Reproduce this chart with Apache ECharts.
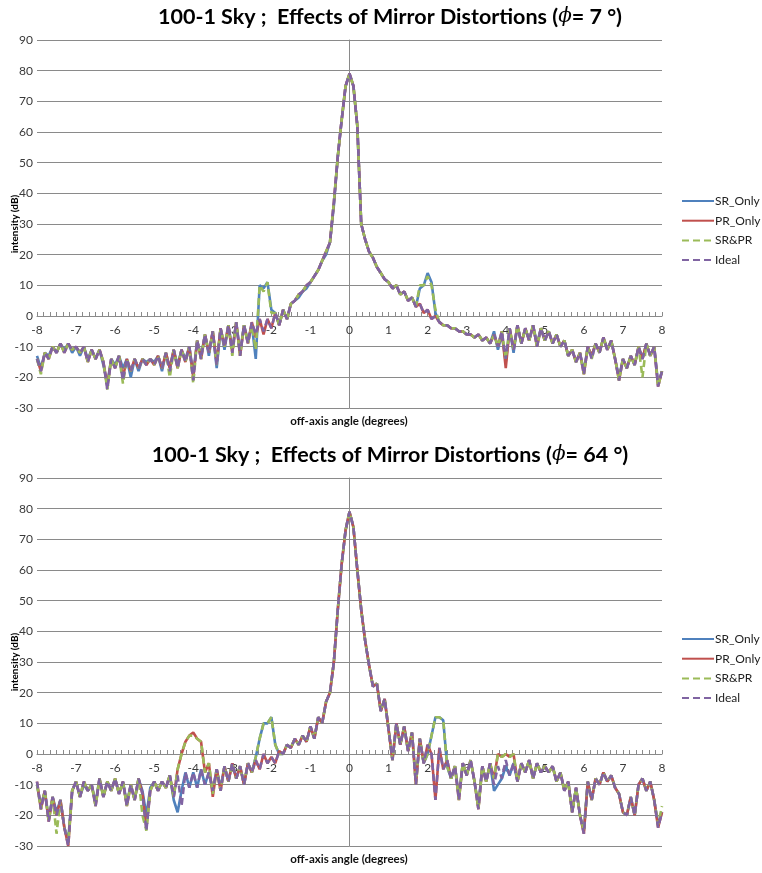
<!DOCTYPE html>
<html>
<head>
<meta charset="utf-8">
<script src="https://cdn.jsdelivr.net/npm/echarts@6/dist/echarts.min.js"></script>
<style>
  html, body { margin: 0; padding: 0; background: #fff; }
  #chart { width: 762px; height: 873px; }
</style>
</head>
<body>
<div id="chart"></div>
<script>
// Off-axis angle sample grid: -8.0° .. 8.0° in 0.1° steps (161 samples)
const angles = [];
for (let i = 0; i <= 160; i++) angles.push(Math.round((-8 + i * 0.1) * 10) / 10);

const seriesNames = ['SR_Only', 'PR_Only', 'SR&PR', 'Ideal'];
const xTicks = { min: -8, max: 8, step: 1 };
const yTicks = { min: -30, max: 90, step: 10 };

// ---- phi = 7 deg : intensity (dB) ----
const p7SR = [
  -13, -17, -12, -13, -10, -12, -9, -11, -9, -12,
  -10, -13, -10, -14, -11, -14, -11, -16, -22, -14,
  -16, -13, -17, -14, -20, -14, -18, -14, -15, -14,
  -15, -13, -18, -12, -17, -11, -16, -11, -14, -10,
  -19, -8, -13, -6, -13, -5, -17, -4, -11, -3,
  -11, -2, -12, -3, -8, -3, -14, 10, 9, 11,
  2, 1, -3, 2, -1, 4, 5, 6, 8, 9,
  11, 13, 15, 18, 20, 24, 36, 52, 64, 75,
  79,
  75, 62, 30, 25, 21, 19, 16, 14, 12, 11,
  9, 10, 7, 8, 5, 6, 3, 9, 10, 14,
  11, 1, -2, -3, -3, -4, -4, -5, -5, -6,
  -6, -7, -6, -8, -7, -9, -5, -11, -6, -15,
  -4, -12, -3, -9, -4, -8, -3, -9, -4, -8,
  -5, -9, -6, -10, -8, -13, -11, -15, -12, -18,
  -10, -13, -9, -12, -7, -11, -8, -14, -20, -14,
  -17, -13, -16, -10, -14, -9, -13, -10, -22, -18
];
const p7PR = [
  -14, -18, -12, -14, -10, -12, -9, -12, -9, -11,
  -10, -12, -10, -15, -11, -14, -11, -15, -23, -14,
  -17, -13, -20, -14, -18, -14, -17, -14, -16, -14,
  -16, -13, -17, -12, -17, -11, -17, -11, -15, -10,
  -20, -8, -14, -6, -12, -5, -15, -4, -10, -3,
  -12, -2, -13, -3, -9, -2, -7, -1, -6, -1,
  -4, 1, -3, 2, -1, 4, 5, 7, 8, 10,
  11, 13, 15, 18, 21, 24, 37, 52, 64, 75,
  79,
  75, 62, 30, 25, 21, 19, 16, 14, 12, 11,
  9, 10, 7, 8, 5, 6, 3, 4, 1, 2,
  -1, 0, -2, -3, -3, -4, -4, -5, -5, -6,
  -6, -7, -6, -8, -7, -9, -6, -10, -5, -17,
  -4, -11, -3, -9, -4, -8, -3, -10, -4, -8,
  -5, -9, -6, -10, -8, -13, -11, -15, -12, -19,
  -10, -13, -9, -12, -7, -11, -8, -14, -21, -14,
  -17, -13, -16, -10, -14, -9, -13, -10, -23, -18
];
const p7Both = [
  -14, -19, -12, -14, -10, -12, -9, -12, -9, -11,
  -10, -12, -10, -15, -11, -14, -11, -15, -24, -14,
  -17, -13, -22, -14, -18, -14, -17, -14, -16, -14,
  -16, -13, -17, -12, -20, -11, -17, -11, -15, -10,
  -22, -8, -14, -6, -12, -5, -16, -4, -10, -3,
  -13, -2, -13, -3, -9, -3, -11, 10, 8, 11,
  1, 1, -3, 2, -1, 4, 5, 7, 8, 10,
  11, 13, 15, 18, 21, 24, 37, 52, 64, 75,
  79,
  75, 62, 30, 25, 21, 19, 16, 14, 12, 11,
  9, 10, 7, 8, 5, 6, 3, 10, 10, 13,
  10, 2, -2, -3, -3, -4, -4, -5, -5, -6,
  -6, -7, -6, -8, -7, -9, -6, -10, -5, -14,
  -4, -11, -3, -9, -4, -8, -3, -10, -4, -8,
  -5, -9, -6, -10, -8, -13, -11, -15, -12, -19,
  -10, -14, -9, -12, -7, -11, -8, -14, -21, -14,
  -17, -13, -16, -10, -20, -9, -13, -10, -23, -18
];
const p7Ideal = [
  -14, -18, -12, -14, -10, -12, -9, -12, -9, -11,
  -10, -12, -10, -15, -11, -14, -11, -15, -24, -14,
  -17, -13, -21, -14, -18, -14, -17, -14, -16, -14,
  -16, -13, -17, -12, -18, -11, -17, -11, -15, -10,
  -21, -8, -14, -6, -12, -5, -16, -4, -10, -3,
  -12, -2, -13, -3, -9, -2, -6, -1, -5, -1,
  -4, 1, -3, 2, -1, 4, 5, 7, 8, 10,
  11, 13, 15, 18, 21, 24, 37, 52, 64, 75,
  79,
  75, 62, 30, 25, 21, 19, 16, 14, 12, 11,
  9, 10, 7, 8, 5, 6, 3, 4, 1, 2,
  -1, 0, -2, -3, -3, -4, -4, -5, -5, -6,
  -6, -7, -6, -8, -7, -9, -6, -10, -5, -14,
  -4, -11, -3, -9, -4, -8, -3, -10, -4, -8,
  -5, -9, -6, -10, -8, -13, -11, -15, -12, -19,
  -10, -14, -9, -12, -7, -11, -8, -14, -21, -14,
  -17, -13, -16, -10, -14, -9, -13, -10, -23, -18
];

// ---- phi = 64 deg : intensity (dB) ----
const p64SR = [
  -10, -17, -12, -21, -14, -19, -15, -24, -28, -12,
  -9, -14, -10, -12, -10, -16, -8, -14, -9, -12,
  -8, -13, -9, -16, -10, -15, -8, -12, -20, -11,
  -9, -12, -9, -11, -7, -15, -19, -12, -6, -11,
  -6, -11, -5, -10, -6, -12, -5, -11, -4, -9,
  -3, -8, -4, -10, -3, -6, -1, 5, 10, 10,
  12, 3, 0, 0, 3, 2, 5, 3, 6, 4,
  9, 5, 12, 10, 17, 20, 30, 47, 62, 73,
  79,
  74, 60, 47, 37, 29, 22, 23, 14, 18, 8,
  -2, 10, 3, 9, 1, 7, -9, 5, -3, 0,
  6, 12, 12, 11, -4, -8, -4, -14, -3, -7,
  -2, -9, -17, -4, -9, -3, -12, -10, -8, -4,
  -7, -3, -9, -3, -6, -2, -8, -3, -6, -4,
  -6, -4, -9, -6, -12, -9, -19, -11, -20, -25,
  -9, -15, -8, -10, -6, -9, -7, -11, -13, -19,
  -20, -14, -20, -10, -8, -12, -9, -15, -23, -19
];
const p64PR = [
  -9, -18, -12, -22, -14, -20, -15, -24, -30, -12,
  -9, -14, -9, -12, -10, -17, -8, -14, -9, -12,
  -8, -13, -9, -17, -10, -15, -8, -13, -24, -12,
  -9, -12, -9, -11, -7, -14, -5, 0, 4, 6,
  7, 5, 4, -6, -3, -14, -5, -12, -4, -9,
  -3, -8, -4, -10, -3, -6, -2, -5, 0, -3,
  -1, -3, 1, 0, 3, 2, 5, 3, 6, 4,
  9, 5, 12, 10, 17, 20, 30, 47, 62, 73,
  79,
  74, 60, 47, 37, 29, 22, 23, 14, 18, 8,
  -2, 10, 3, 9, 1, 7, -10, 5, -3, 3,
  0, -15, 2, -5, -2, -8, -4, -15, -3, -7,
  -2, -9, -18, -4, -9, -3, -8, 0, -1, 0,
  -1, 0, -9, -3, -6, -2, -8, -3, -6, -4,
  -6, -4, -9, -6, -12, -9, -19, -11, -20, -26,
  -9, -15, -8, -10, -6, -9, -7, -11, -13, -19,
  -20, -14, -20, -10, -8, -12, -9, -15, -24, -19
];
const p64Both = [
  -10, -18, -12, -22, -14, -26, -15, -24, -29, -12,
  -9, -14, -9, -12, -10, -17, -8, -14, -9, -12,
  -8, -13, -9, -17, -10, -15, -8, -20, -25, -12,
  -9, -12, -9, -11, -7, -14, -5, 0, 4, 6,
  6, 5, 4, -6, -3, -13, -5, -12, -4, -9,
  -3, -8, -4, -10, -3, -6, -1, 5, 10, 10,
  12, 3, 0, 0, 3, 2, 5, 3, 6, 4,
  9, 5, 12, 10, 17, 20, 30, 47, 62, 73,
  79,
  74, 60, 47, 37, 29, 22, 23, 14, 18, 8,
  -2, 10, 3, 9, 1, 7, -10, 5, -3, 0,
  6, 12, 12, 11, -4, -8, -4, -15, -3, -7,
  -2, -9, -18, -4, -9, -3, -8, 0, -1, 0,
  -1, 0, -9, -3, -6, -2, -8, -3, -6, -4,
  -6, -4, -9, -6, -12, -9, -19, -11, -20, -25,
  -9, -15, -8, -10, -6, -9, -7, -11, -13, -19,
  -20, -14, -20, -10, -8, -12, -9, -15, -23, -17
];
const p64Ideal = [
  -9, -18, -12, -22, -14, -20, -15, -24, -30, -12,
  -9, -14, -9, -12, -10, -17, -8, -14, -9, -12,
  -8, -13, -9, -17, -10, -15, -8, -13, -25, -12,
  -9, -12, -9, -11, -7, -14, -7, -17, -6, -11,
  -6, -11, -5, -10, -6, -12, -5, -12, -4, -9,
  -3, -8, -4, -10, -3, -6, -2, -5, 0, -3,
  -1, -3, 1, 0, 3, 2, 5, 3, 6, 4,
  9, 5, 12, 10, 17, 20, 30, 47, 62, 73,
  79,
  74, 60, 47, 37, 29, 22, 23, 14, 18, 8,
  -2, 10, 3, 9, 1, 7, -10, 5, -3, 3,
  0, -15, 2, -5, -2, -8, -4, -15, -3, -7,
  -2, -9, -18, -4, -9, -3, -10, -4, -8, -2,
  -7, -3, -9, -3, -6, -2, -8, -3, -6, -4,
  -6, -4, -9, -6, -12, -9, -19, -11, -20, -26,
  -9, -15, -8, -10, -6, -9, -7, -11, -13, -19,
  -20, -14, -20, -10, -8, -12, -9, -15, -24, -19
];

const colors = { 'SR_Only': '#4F81BD', 'PR_Only': '#C0504D', 'SR&PR': '#9BBB59', 'Ideal': '#8064A2' };
const dashed = { 'SR_Only': false, 'PR_Only': false, 'SR&PR': true, 'Ideal': true };

const panels = [
  { phi: '7', top: 40, data: [p7SR, p7PR, p7Both, p7Ideal] },
  { phi: '64', top: 478, data: [p64SR, p64PR, p64Both, p64Ideal] }
];

const FONT = 'Lato, "Open Sans", sans-serif';
const GRID_LEFT = 37, GRID_W = 625, GRID_H = 368;
const axisGrey = '#8A8A8A';
// the angle axis sits on the 0 dB line: 3 of the 12 dB divisions above the grid bottom
const ZERO_OFFSET = -GRID_H * (0 - yTicks.min) / (yTicks.max - yTicks.min);

const grids = [], xAxes = [], yAxes = [], series = [], titles = [], legends = [], graphics = [];

panels.forEach((p, gi) => {
  grids.push({ left: GRID_LEFT, top: p.top, width: GRID_W, height: GRID_H, containLabel: false });

  xAxes.push({
    gridIndex: gi, type: 'value', position: 'bottom', offset: ZERO_OFFSET,
    min: xTicks.min, max: xTicks.max, interval: xTicks.step,
    axisLine: { onZero: false, lineStyle: { color: axisGrey, width: 1 } },
    axisTick: { show: true, inside: true, length: 4, lineStyle: { color: axisGrey } },
    minorTick: { show: true, splitNumber: 6, length: 4, lineStyle: { color: axisGrey } },
    axisLabel: { color: '#3a3a3a', fontSize: 12, fontFamily: FONT, margin: 8 },
    splitLine: { show: false }
  });

  yAxes.push({
    gridIndex: gi, type: 'value',
    min: yTicks.min, max: yTicks.max, interval: yTicks.step,
    axisLine: { show: true, onZero: true, lineStyle: { color: axisGrey, width: 1 } },
    axisTick: { show: false },
    axisLabel: { color: '#3a3a3a', fontSize: 12, fontFamily: FONT, margin: 4 },
    splitLine: { show: true, lineStyle: { color: axisGrey, width: 1 } }
  });

  seriesNames.forEach((name, si) => {
    const ys = p.data[si];
    series.push({
      name, type: 'line', xAxisIndex: gi, yAxisIndex: gi,
      data: angles.map((x, i) => [x, ys[i]]),
      symbol: 'none', showSymbol: false, smooth: false,
      lineStyle: { color: colors[name], width: 2.6, type: dashed[name] ? [7, 4] : 'solid' },
      itemStyle: { color: colors[name] },
      emphasis: { disabled: true },
      animation: false
    });
  });

  titles.push({
    text: '{a|100-1 Sky ;  Effects of Mirror Distortions (}{b|\u03D5}{a|= ' + p.phi + ' \u00B0)}',
    left: 385, top: p.top - 39, textAlign: 'center',
    textStyle: {
      rich: {
        a: { fontFamily: FONT, fontWeight: 'bold', fontSize: 21.5, color: '#000' },
        b: { fontFamily: '"DejaVu Serif", serif', fontStyle: 'italic', fontWeight: 'normal', fontSize: 20, color: '#000' }
      }
    }
  });

  legends.push({
    data: seriesNames, orient: 'vertical',
    left: 676, top: p.top + 150,
    itemWidth: 32, itemHeight: 14, itemGap: 7.7,
    itemStyle: { opacity: 0 },
    textStyle: { fontFamily: FONT, fontSize: 12, color: '#222', padding: [0, 0, 0, -4] },
    selectedMode: false
  });

  graphics.push({
    type: 'text', x: 15, y: p.top + GRID_H / 2, rotation: Math.PI / 2,
    style: { text: 'intensity (dB)', font: 'bold 10px ' + FONT, fill: '#000', textAlign: 'center', textVerticalAlign: 'middle' }
  });
  graphics.push({
    type: 'text', x: 349, y: p.top + GRID_H + 13,
    style: { text: 'off-axis angle (degrees)', font: 'bold 11.5px ' + FONT, fill: '#111', textAlign: 'center', textVerticalAlign: 'middle' }
  });
});

const chart = echarts.init(document.getElementById('chart'), null, { renderer: 'canvas' });
chart.setOption({
  backgroundColor: '#fff',
  animation: false,
  title: titles,
  legend: legends,
  grid: grids,
  xAxis: xAxes,
  yAxis: yAxes,
  series: series,
  graphic: graphics
});
</script>
</body>
</html>
